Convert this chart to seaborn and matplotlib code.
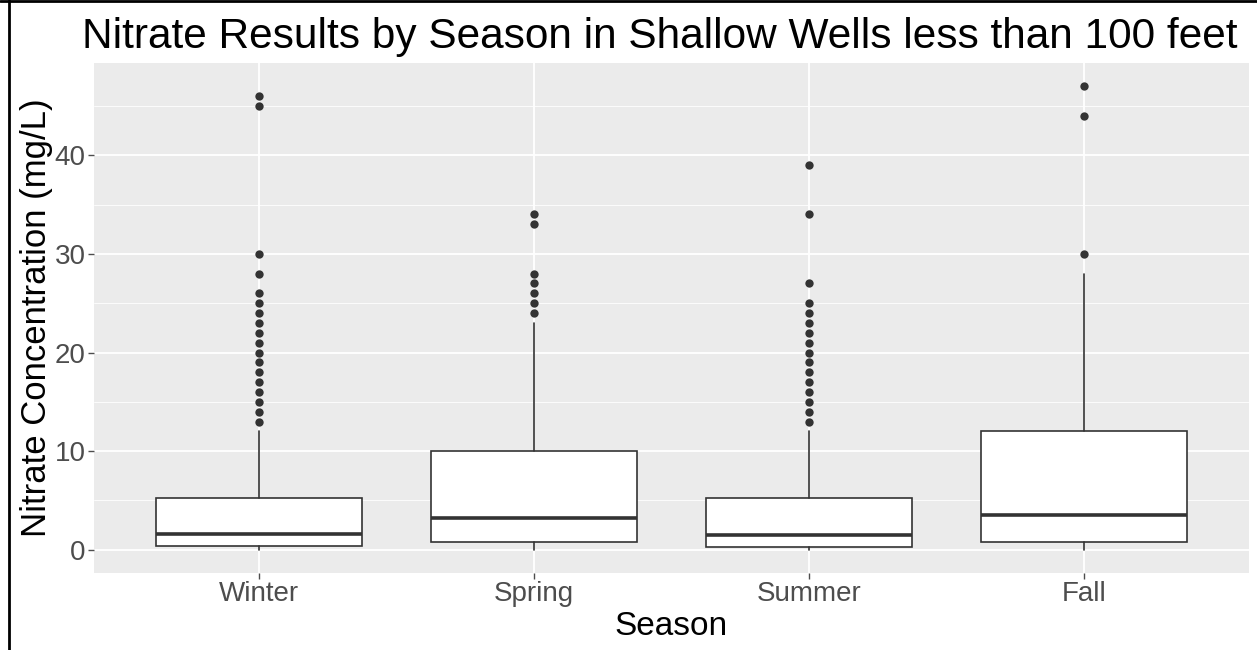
import matplotlib
matplotlib.use('Agg')
import matplotlib.pyplot as plt
from matplotlib.lines import Line2D
import pandas as pd
import seaborn as sns

# Summary statistics
seasons = ['Winter', 'Spring', 'Summer', 'Fall']
whisker_low = [0.0, 0.0, 0.0, 0.0]
q1 = [0.43, 0.8, 0.33, 0.8]
median = [1.6, 3.2, 1.5, 3.5]
q3 = [5.3, 10.0, 5.3, 12.0]
whisker_high = [12.0, 23.0, 12.0, 28.0]

winter_outliers = [46, 45, 30, 28, 26, 25, 24, 23, 22, 21, 20, 19, 18, 17, 16, 15, 14, 13]
spring_outliers = [34, 33, 28, 27, 26, 25, 24]
summer_outliers = [39, 34, 27, 25, 24, 23, 22, 21, 20, 19, 18, 17, 16, 15, 14, 13]
fall_outliers = [47, 44, 30]
outliers = [winter_outliers, spring_outliers, summer_outliers, fall_outliers]

sns.set_theme(style="darkgrid", rc={
    'axes.facecolor': '#EBEBEB',
    'grid.color': 'white',
    'axes.edgecolor': 'white',
})
plt.rcParams['font.family'] = ['Liberation Sans', 'DejaVu Sans']

fig = plt.figure(figsize=(12.57, 6.5), dpi=100)
ax = fig.add_axes([0.0748, 0.1185, 0.9188, 0.7846])

stats = []
for i, s in enumerate(seasons):
    stats.append({'label': s, 'whislo': whisker_low[i], 'q1': q1[i], 'med': median[i],
                  'q3': q3[i], 'whishi': whisker_high[i], 'fliers': []})

ax.bxp(stats, positions=range(len(seasons)), widths=0.75, showfliers=False,
       patch_artist=True, showcaps=False,
       boxprops=dict(facecolor='white', edgecolor='#333333', linewidth=1.2),
       whiskerprops=dict(color='#333333', linewidth=1.2),
       medianprops=dict(color='#333333', linewidth=2.6, solid_capstyle='butt'))

# outliers
rows = []
for s, vals in zip(seasons, outliers):
    for v in vals:
        rows.append({'Season': s, 'Nitrate': v})
df_out = pd.DataFrame(rows)
sns.stripplot(data=df_out, x='Season', y='Nitrate', order=seasons, jitter=False,
              color='#333333', size=6, linewidth=0, ax=ax, zorder=5)

ax.set_xlim(-0.6, 3.6)
ax.set_ylim(-2.35, 49.35)
ax.set_yticks([0, 10, 20, 30, 40])
ax.set_yticks([5, 15, 25, 35, 45], minor=True)
ax.set_xticks(range(len(seasons)))
ax.set_xticklabels(seasons)
ax.grid(True, which='major', color='white', linewidth=1.3)
ax.grid(True, which='minor', axis='y', color='white', linewidth=0.6)
ax.tick_params(axis='both', which='major', colors='#4D4D4D', labelsize=20,
               length=4, width=1, direction='out', left=True, bottom=True, pad=2)
ax.tick_params(axis='y', which='minor', length=0)
for sp in ax.spines.values():
    sp.set_visible(False)

ax.set_xlabel('Season', fontsize=24, color='black', labelpad=3)
ax.set_ylabel('Nitrate Concentration (mg/L)', fontsize=25, color='black', labelpad=1)
ax.set_title('Nitrate Results by Season in Shallow Wells less than 100 feet',
             fontsize=30.5, color='black', pad=11, x=0.49)

# black frame on left and top edges
fig.add_artist(Line2D([0.0072, 0.0072], [0, 1], transform=fig.transFigure, color='black', linewidth=2))
fig.add_artist(Line2D([0, 1], [0.998, 0.998], transform=fig.transFigure, color='black', linewidth=2))

plt.savefig('out.png', dpi=100)
